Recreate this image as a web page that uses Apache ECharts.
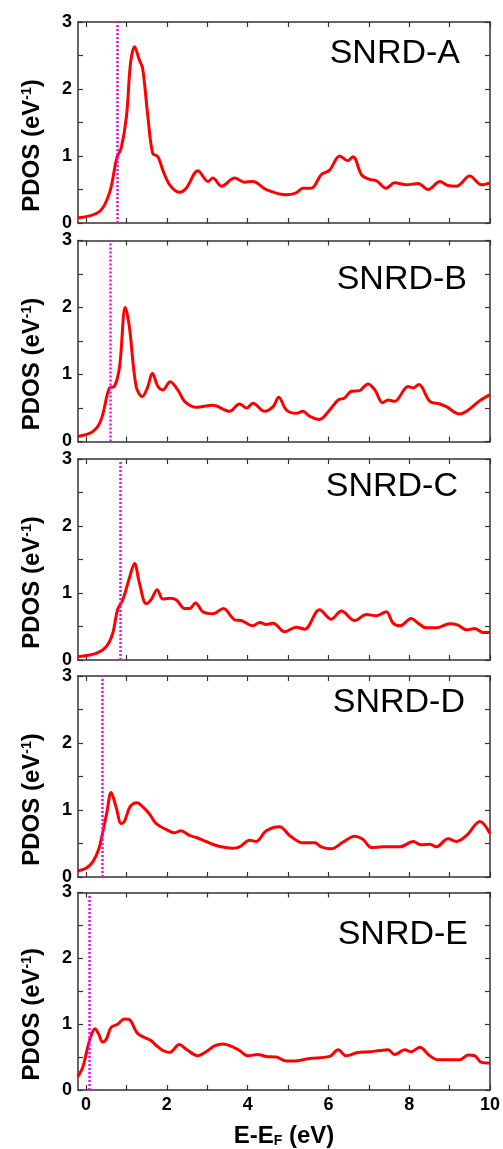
<!DOCTYPE html>
<html>
<head>
<meta charset="utf-8">
<script src="https://cdn.jsdelivr.net/npm/echarts@6/dist/echarts.min.js"></script>
<style>
html,body{margin:0;padding:0;background:#fff;}
#c{width:503px;height:1149px;}
</style>
</head>
<body>
<div id="c"></div>
<script>
// ---- data ----
const panelNames = ['SNRD-A','SNRD-B','SNRD-C','SNRD-D','SNRD-E'];
const fermiLines = [0.77, 0.61, 0.85, 0.41, 0.07];
const xTickValues = [0,1,2,3,4,5,6,7,8,9,10];
const xLabelValues = [0,2,4,6,8,10];
const yTickLabels = ['0','1','2','3'];

const aE = [-0.21,0.33,0.58,0.76,0.87,1.0,1.1,1.2,1.32,1.4,1.53,1.65,1.78,1.9,2.07,2.31,2.48,2.77,3.02,3.14,3.35,3.68,3.92,4.13,4.46,4.96,5.2,5.37,5.58,5.82,6.03,6.28,6.48,6.61,6.82,7.02,7.19,7.43,7.64,7.93,8.22,8.47,8.76,8.96,9.17,9.5,9.79,10];
const aV = [0.075,0.17,0.45,0.97,1.12,1.59,2.38,2.63,2.43,2.31,1.59,1.04,0.99,0.79,0.57,0.46,0.52,0.78,0.62,0.67,0.55,0.67,0.61,0.62,0.5,0.42,0.45,0.52,0.52,0.72,0.79,1.0,0.93,0.99,0.72,0.65,0.63,0.52,0.6,0.57,0.59,0.5,0.62,0.56,0.55,0.7,0.57,0.6];

const bE = [-0.21,0.17,0.37,0.58,0.7,0.83,0.97,1.07,1.24,1.39,1.53,1.64,1.78,1.9,2.08,2.27,2.44,2.73,3.14,3.55,3.8,3.97,4.13,4.42,4.63,4.77,4.96,5.2,5.37,5.53,5.78,6.03,6.24,6.4,6.57,6.77,6.98,7.15,7.34,7.48,7.64,7.97,8.1,8.24,8.51,8.76,8.92,9.25,9.42,9.75,10];
const bV = [0.075,0.15,0.32,0.8,0.82,1.12,2.0,1.72,0.82,0.67,0.82,1.02,0.82,0.77,0.89,0.77,0.6,0.51,0.54,0.45,0.56,0.5,0.57,0.45,0.52,0.66,0.47,0.42,0.45,0.38,0.33,0.47,0.62,0.65,0.75,0.76,0.86,0.77,0.58,0.62,0.6,0.82,0.8,0.85,0.6,0.56,0.52,0.41,0.45,0.61,0.7];

const cE = [-0.21,0.25,0.5,0.66,0.78,0.91,1.07,1.2,1.32,1.49,1.61,1.76,1.9,2.07,2.23,2.44,2.56,2.71,2.89,3.14,3.4,3.68,3.84,4.13,4.3,4.46,4.63,4.92,5.2,5.41,5.78,6.07,6.32,6.65,6.94,7.19,7.43,7.6,7.77,8.05,8.22,8.43,8.67,9.0,9.21,9.42,9.62,9.83,10];
const cV = [0.05,0.1,0.2,0.4,0.75,0.9,1.22,1.44,1.15,0.84,0.9,1.05,0.91,0.92,0.9,0.77,0.77,0.85,0.72,0.69,0.77,0.6,0.59,0.51,0.56,0.53,0.55,0.42,0.49,0.46,0.75,0.61,0.73,0.59,0.68,0.66,0.72,0.55,0.51,0.62,0.55,0.48,0.48,0.54,0.52,0.45,0.47,0.41,0.41];

const dE = [-0.21,0,0.17,0.31,0.41,0.51,0.62,0.74,0.87,0.95,1.09,1.26,1.4,1.57,1.73,1.98,2.19,2.35,2.56,2.73,2.97,3.22,3.63,3.8,4.05,4.21,4.46,4.79,5.04,5.37,5.66,5.82,6.07,6.36,6.65,6.86,7.06,7.35,7.77,8.1,8.3,8.51,8.67,8.96,9.17,9.42,9.75,10];
const dV = [0.09,0.13,0.23,0.41,0.66,0.95,1.26,1.05,0.8,0.83,1.05,1.11,1.05,0.94,0.8,0.71,0.66,0.69,0.62,0.59,0.53,0.47,0.43,0.45,0.55,0.53,0.69,0.75,0.62,0.51,0.51,0.45,0.42,0.52,0.61,0.56,0.44,0.45,0.45,0.53,0.48,0.49,0.45,0.57,0.53,0.62,0.83,0.65];

const eE = [-0.21,-0.08,0.04,0.12,0.22,0.31,0.41,0.5,0.62,0.78,0.95,1.07,1.26,1.4,1.61,1.73,1.9,2.07,2.31,2.48,2.77,2.97,3.18,3.39,3.68,3.8,4.01,4.25,4.46,4.71,4.96,5.12,5.37,5.53,6.03,6.24,6.44,6.73,7.02,7.27,7.48,7.64,7.89,8.05,8.26,8.51,8.71,9.0,9.25,9.46,9.62,9.79,10];
const eV = [0.2,0.35,0.65,0.82,0.93,0.85,0.73,0.77,0.95,1.0,1.08,1.07,0.87,0.81,0.75,0.68,0.6,0.57,0.69,0.62,0.52,0.58,0.67,0.7,0.64,0.6,0.52,0.54,0.51,0.5,0.44,0.44,0.46,0.48,0.51,0.61,0.52,0.57,0.58,0.6,0.61,0.54,0.61,0.58,0.65,0.52,0.46,0.46,0.46,0.53,0.52,0.42,0.41];

const energies = [aE,bE,cE,dE,eE];
const values = [aV,bV,cV,dV,eV];

// ---- layout ----
const FONT = 'Arial, "Liberation Sans", sans-serif';
const gridTops = [22, 240.5, 459, 676, 892.5];
const gridH = 201;
const labelPos = [[460,54],[467,280],[458,487],[465,703],[468,935]];
const frame = '#333';

const grids = [], xAxes = [], yAxes = [], series = [], graphics = [];
for (let i = 0; i < 5; i++) {
  grids.push({left: 78, right: 13, top: gridTops[i], height: gridH, show: false});
  const last = i === 4;
  xAxes.push({
    type: 'value', gridIndex: i, min: -0.2, max: 10, position: 'bottom',
    axisLine: {show: true, onZero: false, lineStyle: {color: frame, width: 1.5}},
    axisTick: {show: true, inside: true, length: 5, customValues: xTickValues, lineStyle: {color: frame, width: 1.2}},
    axisLabel: {show: last, customValues: xLabelValues, fontFamily: FONT, fontWeight: 'bold', fontSize: 18, color: '#000', margin: 6},
    splitLine: {show: false},
    name: last ? 'E-E{sub|F} (eV)' : '',
    nameLocation: 'middle', nameGap: 34,
    nameTextStyle: {fontFamily: FONT, fontWeight: 'bold', fontSize: 24, color: '#000',
      rich: {sub: {fontFamily: FONT, fontWeight: 'bold', fontSize: 14, color: '#000', verticalAlign: 'bottom', padding: [10,0,0,0]}}}
  });
  xAxes.push({
    type: 'value', gridIndex: i, min: -0.2, max: 10, position: 'top',
    axisLine: {show: true, onZero: false, lineStyle: {color: frame, width: 1.5}},
    axisTick: {show: true, inside: true, length: 5, customValues: xTickValues, lineStyle: {color: frame, width: 1.2}},
    axisLabel: {show: false}, splitLine: {show: false}
  });
  yAxes.push({
    type: 'value', gridIndex: i, min: 0, max: 3, interval: 0.5, position: 'left',
    axisLine: {show: true, onZero: false, lineStyle: {color: frame, width: 1.5}},
    axisTick: {show: true, inside: true, length: 5, lineStyle: {color: frame, width: 1.2}},
    axisLabel: {fontFamily: FONT, fontWeight: 'bold', fontSize: 18, color: '#000', margin: 6,
      formatter: v => (Math.abs(v - Math.round(v)) < 1e-6 ? yTickLabels[Math.round(v)] : '')},
    splitLine: {show: false},
    name: 'PDOS (eV{sup|-1})', nameLocation: 'middle', nameRotate: 90, nameGap: 34,
    nameTextStyle: {fontFamily: FONT, fontWeight: 'bold', fontSize: 24, color: '#000', padding: [0, 46, 0, 0],
      rich: {sup: {fontFamily: FONT, fontWeight: 'bold', fontSize: 14, color: '#000', verticalAlign: 'top', padding: [0,0,10,0]}}}
  });
  yAxes.push({
    type: 'value', gridIndex: i, min: 0, max: 3, interval: 0.5, position: 'right',
    axisLine: {show: true, onZero: false, lineStyle: {color: frame, width: 1.5}},
    axisTick: {show: true, inside: true, length: 5, lineStyle: {color: frame, width: 1.2}},
    axisLabel: {show: false}, splitLine: {show: false}
  });
  series.push({
    type: 'line', xAxisIndex: 2*i, yAxisIndex: 2*i,
    data: energies[i].map((e, k) => [e, values[i][k]]),
    smooth: 0.35, showSymbol: false, symbol: 'none',
    lineStyle: {color: '#ff0000', width: 3}, z: 3,
    markLine: {
      silent: true, symbol: 'none', animation: false,
      label: {show: false},
      lineStyle: {color: '#ff00ff', type: [2, 2], width: 2.5},
      data: [{xAxis: fermiLines[i]}]
    }
  });
  graphics.push({
    type: 'text', x: labelPos[i][0], y: labelPos[i][1],
    style: {text: panelNames[i], font: '34px ' + FONT, fill: '#000', textAlign: 'right', textVerticalAlign: 'middle'}
  });
}

const chart = echarts.init(document.getElementById('c'), null, {renderer: 'canvas'});
chart.setOption({
  animation: false,
  backgroundColor: '#fff',
  grid: grids, xAxis: xAxes, yAxis: yAxes, series: series, graphic: graphics
});
</script>
</body>
</html>
